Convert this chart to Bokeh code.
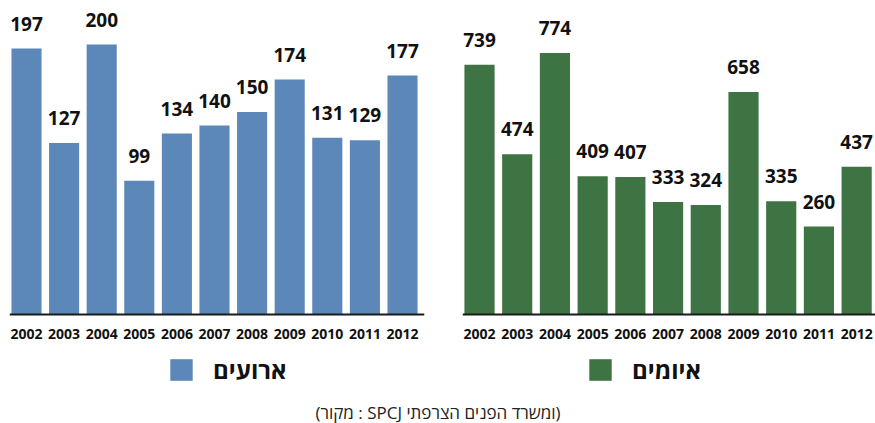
from bokeh.plotting import figure
from bokeh.models import (ColumnDataSource, Range1d, FixedTicker, Legend, LegendItem, Title,
                          LinearAxis)
from bokeh.layouts import column, row
from bokeh.core.properties import value
from bokeh.embed import file_html
from bokeh.resources import INLINE

years = ["2002", "2003", "2004", "2005", "2006", "2007", "2008", "2009", "2010", "2011", "2012"]
incidents = [197, 127, 200, 99, 134, 140, 150, 174, 131, 129, 177]
threats = [739, 474, 774, 409, 407, 333, 324, 658, 335, 260, 437]
label_incidents = "ארועים"
label_threats = "איומים"
source_text = "(מקור : SPCJ ומשרד הפנים הצרפתי)"

BLUE = "#5b88b9"
GREEN = "#3e7443"
FONT = "Open Sans"


def make_panel(vals, color, width, bl, br, xr, yr, legend_label, legend_x):
    idx = list(range(len(years)))
    src = ColumnDataSource(dict(x=idx, top=vals, lab=[str(v) for v in vals]))
    p = figure(width=width, height=390, output_backend="svg", toolbar_location=None,
               x_range=xr, y_range=yr, y_axis_location=None, x_axis_location=None,
               min_border_left=bl, min_border_right=br, min_border_top=0,
               min_border_bottom=0)
    r = p.vbar(x="x", top="top", width=0.8, bottom=0, source=src,
               fill_color=color, line_color=None)
    p.text(x="x", y="top", text="lab", source=src, text_align="center",
           text_baseline="alphabetic", y_offset=-25, text_font=value(FONT),
           text_font_style="bold", text_font_size="19px", text_color="#111111")
    p.xgrid.visible = False
    p.ygrid.visible = False
    p.outline_line_color = None
    p.background_fill_color = None
    p.border_fill_color = None
    ax = LinearAxis(fixed_location=0)
    ax.ticker = FixedTicker(ticks=idx)
    ax.major_label_overrides = {i: y for i, y in zip(idx, years)}
    ax.major_tick_line_color = None
    ax.minor_tick_line_color = None
    ax.major_tick_out = 0
    ax.major_tick_in = 0
    ax.major_label_standoff = 15
    ax.axis_line_color = "#1a1a1a"
    ax.axis_line_width = 2
    ax.major_label_text_font = FONT
    ax.major_label_text_font_style = "bold"
    ax.major_label_text_font_size = "14px"
    ax.major_label_text_color = "#111111"
    p.add_layout(ax, "below")
    leg = Legend(items=[LegendItem(label=legend_label, renderers=[r])],
                 location=(legend_x, 4), glyph_width=28, glyph_height=27,
                 label_standoff=18, label_text_font=FONT, label_text_font_style="bold",
                 label_text_font_size="24px", label_text_color="#111111",
                 border_line_color=None, background_fill_alpha=0, padding=0, margin=0)
    p.add_layout(leg)
    return p


p1 = make_panel(incidents, BLUE, 437, 9, 13, Range1d(-0.452, 10.585), Range1d(-56.3, 232.6),
                label_incidents, 158)
p2 = make_panel(threats, GREEN, 438, 25, 0, Range1d(-0.451, 10.50), Range1d(-224.9, 929),
                label_threats, 124)

p3 = figure(width=875, height=33, output_backend="svg", toolbar_location=None,
            x_range=Range1d(0, 1), y_range=Range1d(0, 1),
            x_axis_location=None, y_axis_location=None,
            min_border_left=0, min_border_right=0, min_border_top=0, min_border_bottom=0)
p3.grid.visible = False
p3.outline_line_color = None
p3.add_layout(Title(text=source_text, align="center", offset=29,
                    text_font=FONT, text_font_style="normal",
                    text_font_size="17px", text_color="#222222", standoff=0), "below")

layout = column(row(p1, p2), p3)
open("out.html", "w").write(file_html(layout, INLINE))
